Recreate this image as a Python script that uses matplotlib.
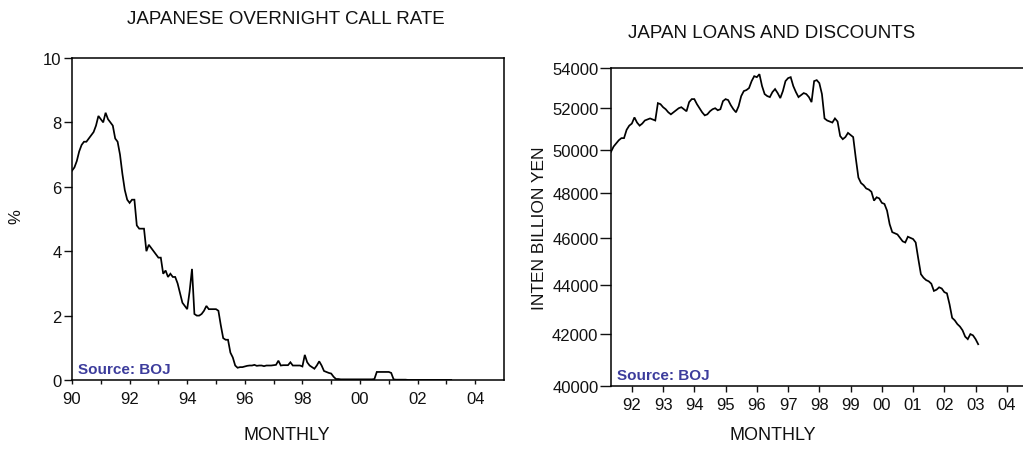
import matplotlib
matplotlib.use("Agg")
import matplotlib.pyplot as plt
from matplotlib.ticker import FixedLocator, NullFormatter, NullLocator
import numpy as np

plt.rcParams['font.family'] = ['Liberation Sans', 'DejaVu Sans']

# ---------------- data ----------------
# Japanese overnight call rate, monthly, 1990:01 - 2003:03 (%)
call_start = 1990.0
call_rate = [
    6.5, 6.6, 6.8, 7.1, 7.3, 7.4, 7.4, 7.5, 7.6, 7.7, 7.9, 8.2,          # 1990
    8.1, 8.0, 8.3, 8.1, 8.0, 7.9, 7.5, 7.4, 7.0, 6.4, 5.9, 5.6,          # 1991
    5.5, 5.6, 5.6, 4.8, 4.7, 4.7, 4.7, 4.0, 4.2, 4.1, 4.0, 3.9,          # 1992
    3.8, 3.8, 3.3, 3.4, 3.2, 3.3, 3.2, 3.2, 3.0, 2.7, 2.4, 2.3,          # 1993
    2.2, 2.75, 3.45, 2.05, 2.0, 2.0, 2.05, 2.15, 2.3, 2.2, 2.2, 2.2,    # 1994
    2.2, 2.15, 1.7, 1.3, 1.25, 1.25, 0.85, 0.7, 0.45, 0.38, 0.4, 0.4,   # 1995
    0.42, 0.44, 0.45, 0.45, 0.47, 0.44, 0.45, 0.45, 0.43, 0.45, 0.45, 0.45,  # 1996
    0.46, 0.47, 0.6, 0.45, 0.46, 0.46, 0.46, 0.55, 0.45, 0.45, 0.45, 0.45,   # 1997
    0.42, 0.78, 0.55, 0.45, 0.40, 0.35, 0.45, 0.58, 0.45, 0.28, 0.25, 0.22,  # 1998
    0.2, 0.1, 0.03, 0.03, 0.02, 0.02, 0.02, 0.02, 0.02, 0.02, 0.02, 0.02,    # 1999
    0.02, 0.02, 0.02, 0.02, 0.02, 0.02, 0.03, 0.25, 0.25, 0.25, 0.25, 0.25,  # 2000
    0.25, 0.22, 0.02, 0.01, 0.01, 0.01, 0.01, 0.01, 0.002, 0.002, 0.002, 0.002,  # 2001
    0.002, 0.002, 0.002, 0.002, 0.002, 0.002, 0.002, 0.002, 0.002, 0.002, 0.002, 0.002,  # 2002
    0.002, 0.002, 0.002,                                                   # 2003
]

# Japan loans and discounts, monthly, 1991:05 - 2003:02 (ten billion yen)
loans_start = 1991.0 + 4 / 12
loans = [
    49900, 50150, 50300, 50450, 50550, 50550, 50950, 51150,               # 1991:05-12
    51250, 51550, 51300, 51150, 51250, 51400, 51450, 51500, 51450, 51400, 52250, 52200,  # 1992
    52050, 51950, 51800, 51700, 51800, 51900, 52000, 52050, 51950, 51850, 52300, 52450,  # 1993
    52450, 52200, 52000, 51800, 51650, 51700, 51850, 51950, 52000, 51900, 51950, 52350,  # 1994
    52450, 52400, 52150, 51950, 51800, 52100, 52600, 52850, 52900, 53000, 53350, 53600,  # 1995
    53550, 53700, 53100, 52700, 52600, 52550, 52800, 52950, 52750, 52500, 52850, 53350,  # 1996
    53500, 53550, 53100, 52800, 52550, 52650, 52750, 52700, 52550, 52300, 53350, 53400,  # 1997
    53250, 52700, 51500, 51400, 51350, 51300, 51500, 51350, 50650, 50500, 50600, 50800,  # 1998
    50700, 50600, 49600, 48700, 48450, 48350, 48200, 48150, 48050, 47650, 47800, 47750,  # 1999
    47550, 47500, 47200, 46600, 46250, 46200, 46150, 46000, 45850, 45800, 46050, 46000,  # 2000
    45950, 45800, 45100, 44450, 44300, 44200, 44150, 44050, 43750, 43800, 43900, 43850,  # 2001
    43700, 43650, 43200, 42650, 42550, 42400, 42300, 42150, 41900, 41800, 42000, 41950,  # 2002
    41800, 41600,                                                          # 2003
]

left_title = "JAPANESE OVERNIGHT CALL RATE"
right_title = "JAPAN LOANS AND DISCOUNTS"
x_title = "MONTHLY"
left_ylabel = "%"
right_ylabel = "INTEN BILLION YEN"
source_text = "Source: BOJ"

left_xticks = list(range(1990, 2005))
left_xlabels = ["90", "", "92", "", "94", "", "96", "", "98", "", "00", "", "02", "", "04"]
left_yticks = [0, 2, 4, 6, 8, 10]
right_xticks = list(range(1992, 2005))
right_xlabels = ["92", "93", "94", "95", "96", "97", "98", "99", "00", "01", "02", "03", "04"]
right_yticks = [40000, 42000, 44000, 46000, 48000, 50000, 52000, 54000]

# ---------------- figure ----------------
W, H = 1023, 456
fig = plt.figure(figsize=(W / 100, H / 100), dpi=100)
fig.patch.set_facecolor("white")

def px_axes(x0, x1, ytop, ybot):
    return fig.add_axes([x0 / W, 1 - ybot / H, (x1 - x0) / W, (ybot - ytop) / H])

txt_color = "#111111"
lw_spine = 1.1
lw_line = 1.25
source_color = "#3c3c9c"

# ---- left panel ----
ax1 = px_axes(72, 504, 59, 381)
x1 = call_start + np.arange(len(call_rate)) / 12.0
ax1.plot(x1, call_rate, color="black", lw=lw_line, solid_joinstyle="miter")
ax1.set_xlim(1990, 2005)
ax1.set_ylim(0, 10)
ax1.xaxis.set_major_locator(FixedLocator(left_xticks))
ax1.set_xticklabels(left_xlabels)
ax1.yaxis.set_major_locator(FixedLocator(left_yticks))
ax1.set_yticklabels([str(v) for v in left_yticks])
ax1.tick_params(axis="x", direction="out", length=3, width=1.0, pad=5,
                labelsize=12, colors=txt_color)
ax1.tick_params(axis="y", direction="out", length=6, width=1.0, pad=1.5,
                labelsize=12, colors=txt_color)
for s in ax1.spines.values():
    s.set_linewidth(lw_spine)
ax1.text(6 / 432, 4 / 322, source_text, transform=ax1.transAxes, color=source_color,
         fontsize=11, fontweight="bold", ha="left", va="bottom")
fig.text(286 / W, 1 - 19 / H, left_title, ha="center", va="center", fontsize=13.5, color=txt_color)
fig.text(287 / W, 1 - 436 / H, x_title, ha="center", va="center", fontsize=13, color=txt_color)
fig.text(16 / W, 1 - 217 / H, left_ylabel, ha="center", va="center", rotation=90,
         fontsize=12, color=txt_color)

# ---- right panel ----
xr0 = loans_start
xr1 = 2005.0
px_per_year = 31.25
right_px = 611 + (xr1 - xr0) * px_per_year
ax2 = px_axes(611, right_px, 69.3, 386.7)
x2 = loans_start + np.arange(len(loans)) / 12.0
ax2.plot(x2, loans, color="black", lw=lw_line, solid_joinstyle="miter")
ax2.set_yscale("log")
ax2.set_xlim(xr0, xr1)
ax2.set_ylim(40000, 54000)
ax2.yaxis.set_minor_locator(NullLocator())
ax2.yaxis.set_minor_formatter(NullFormatter())
ax2.yaxis.set_major_locator(FixedLocator(right_yticks))
ax2.set_yticklabels([str(v) for v in right_yticks])
ax2.xaxis.set_major_locator(FixedLocator(right_xticks))
ax2.set_xticklabels(right_xlabels)
ax2.tick_params(axis="x", direction="out", length=4, width=1.0, pad=4,
                labelsize=12, colors=txt_color)
ax2.tick_params(axis="y", direction="out", length=8, width=1.0, pad=1,
                labelsize=12, colors=txt_color)
for s in ax2.spines.values():
    s.set_linewidth(lw_spine)
ax2_w = right_px - 611
ax2.text(6 / ax2_w, 4 / 317.4, source_text, transform=ax2.transAxes, color=source_color,
         fontsize=11, fontweight="bold", ha="left", va="bottom")
fig.text(772 / W, 1 - 33 / H, right_title, ha="center", va="center", fontsize=13.5, color=txt_color)
fig.text(773 / W, 1 - 436 / H, x_title, ha="center", va="center", fontsize=13, color=txt_color)
fig.text(540 / W, 1 - 228 / H, right_ylabel, ha="center", va="center", rotation=90,
         fontsize=12.5, color=txt_color)

fig.savefig("out.png", dpi=100)
